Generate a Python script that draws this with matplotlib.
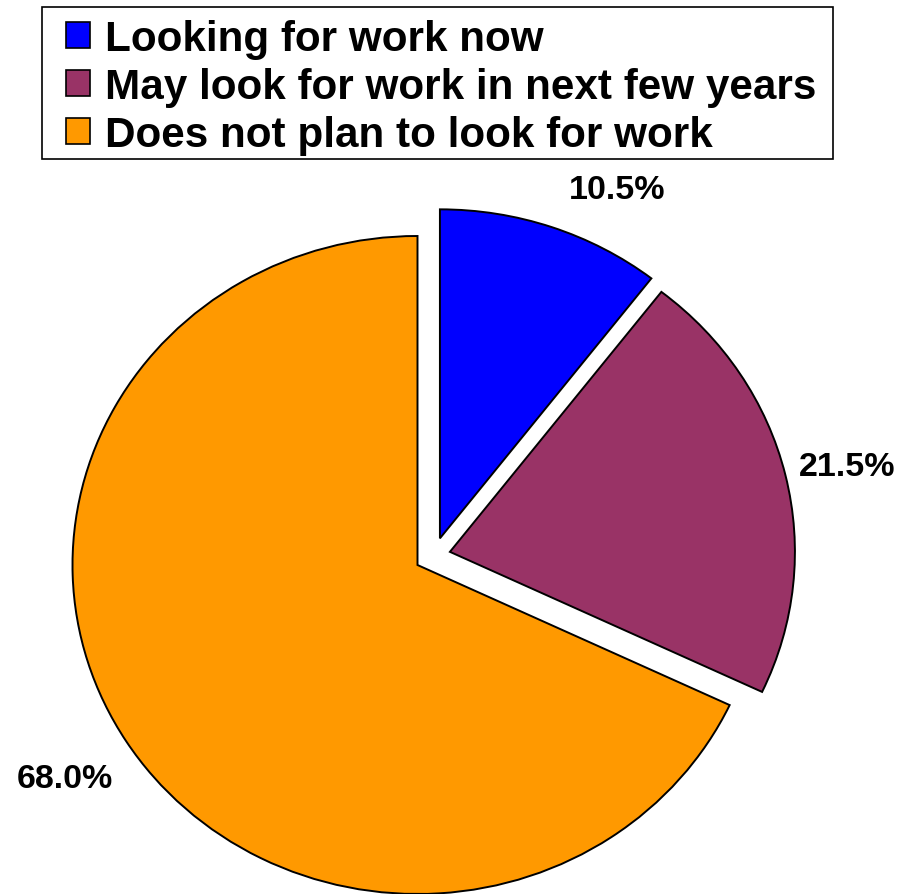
import numpy as np
import matplotlib
matplotlib.use("Agg")
import matplotlib.pyplot as plt
from matplotlib.patches import Patch, Rectangle

# Data
categories = ["Looking for work now",
              "May look for work in next few years",
              "Does not plan to look for work"]
values = [10.5, 21.5, 68.0]
pct_labels = ["10.5%", "21.5%", "68.0%"]

# Style
colors = ["#0000FF", "#993366", "#FF9900"]
wedge_offsets = [(0.065, 0.081), (0.094, 0.040), (0.0, 0.0)]
label_radius = [1.28, 1.28, 1.21]
label_angle_adjust = [-8, 0, 0]

W, H = 907, 895
dpi = 100
fig = plt.figure(figsize=(W / dpi, H / dpi), dpi=dpi)
fig.patch.set_facecolor("white")
ax = fig.add_axes([0, 0, 1, 1])

wedges, _ = ax.pie(values, colors=colors, startangle=90, counterclock=False,
                   wedgeprops=dict(edgecolor="black", linewidth=1.4))
for w, off in zip(wedges, wedge_offsets):
    w.set_center(off)

for w, lab, r, adj in zip(wedges, pct_labels, label_radius, label_angle_adjust):
    mid = np.deg2rad((w.theta1 + w.theta2) / 2 + adj)
    ax.text(r * np.cos(mid), r * np.sin(mid), lab, ha="center", va="center",
            fontsize=24.5, fontweight="bold", family="Liberation Sans", color="black")

# Pie slightly wider than tall, as in the reference
cx, cy, rx, ry = 417.5, 895 - 566, 345, 329
ax.set_aspect("auto")
ax.set_xlim(-cx / rx, (W - cx) / rx)
ax.set_ylim(-cy / ry, (H - cy) / ry)
ax.axis("off")

# Legend frame (square corners)
fig.patches.append(Rectangle((42 / W, 1 - 160 / H), (833 - 42) / W, (160 - 8) / H,
                             transform=fig.transFigure, facecolor="white",
                             edgecolor="black", linewidth=1.2, zorder=0))

handles = [Patch(facecolor=c, edgecolor="black", linewidth=1.2) for c in colors]
leg = fig.legend(handles, categories, loc="upper left",
                 bbox_to_anchor=(66 / W, 1 - 20 / H), bbox_transform=fig.transFigure,
                 borderaxespad=0, frameon=False,
                 prop=dict(family="Liberation Sans", weight="bold", size=30.4),
                 handlelength=0.57, handleheight=0.57, handletextpad=0.36,
                 labelspacing=0.19, borderpad=0)

fig.savefig("out.png", dpi=dpi, facecolor="white")
